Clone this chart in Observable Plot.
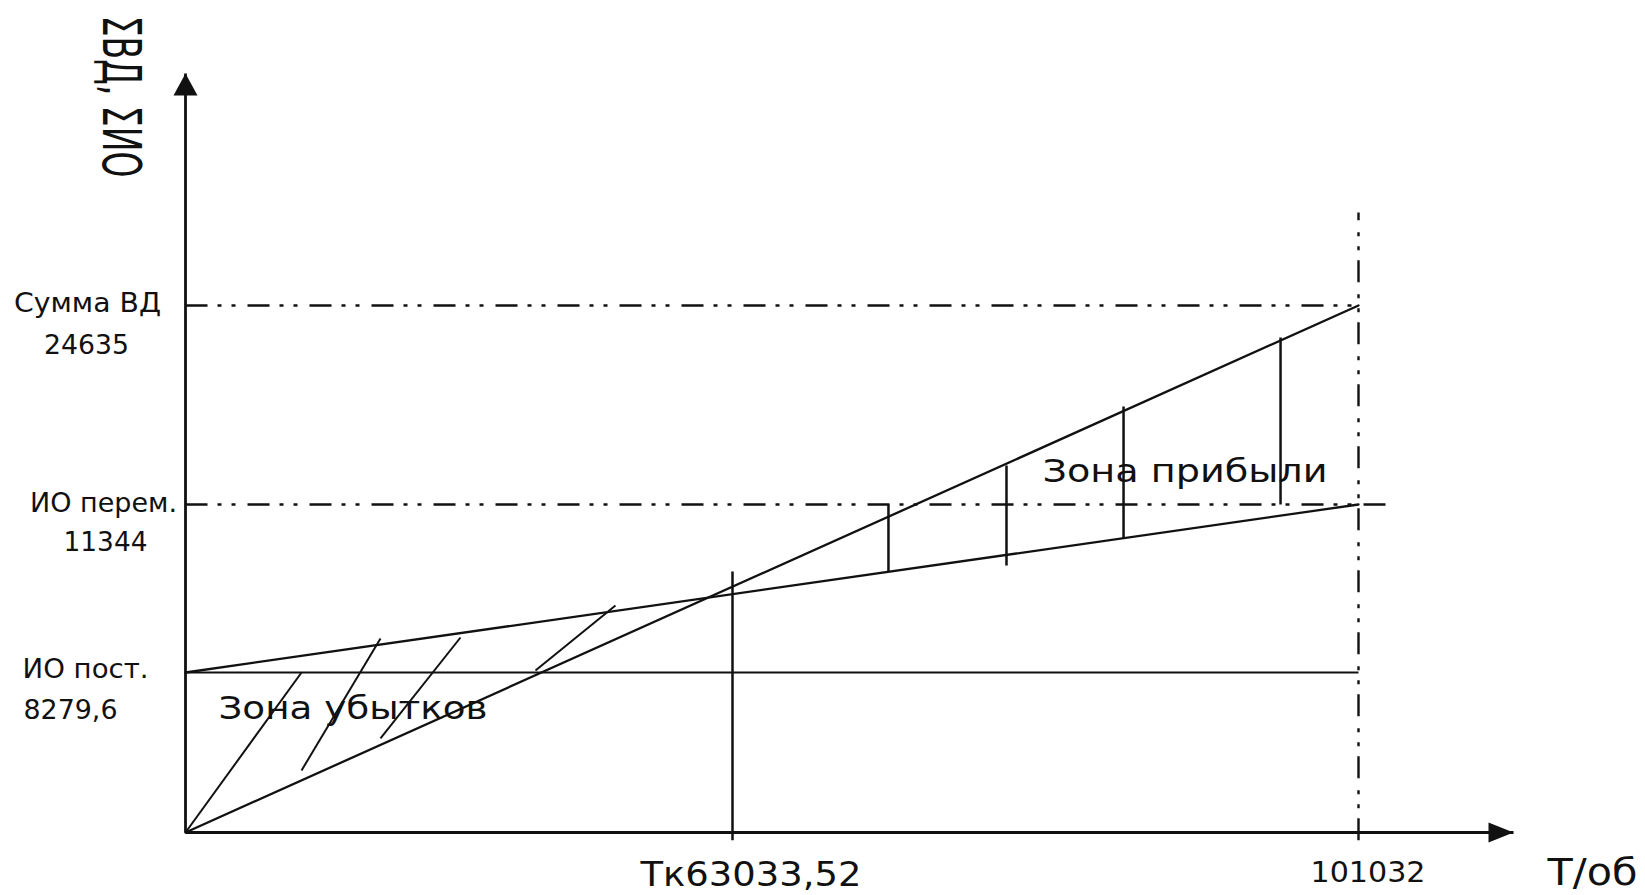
<!DOCTYPE html>
<html><head><meta charset="utf-8">
<script src="https://cdn.jsdelivr.net/npm/d3@7"></script>
<script src="https://cdn.jsdelivr.net/npm/@observablehq/plot@0.6"></script>
<style>body{margin:0;background:#fff;} #chart svg{display:block;}</style>
</head><body><div id="chart"></div>
<script>
// ---- data ----
const xBreaks = [0, 63033.52, 101032, 110000];          // schematic (piecewise) x axis
const yBreaks = [0, 8279.6, 11344, 24635, 40000];       // schematic (piecewise) y axis
const tk = 63033.52;
const tMax = 101032;
const xAxisEnd = 110000;
const yAxisEnd = 40000;
const sumVD = 24635, ioPerem = 11344, ioPost = 8279.6;
const revenueX = [0, 101032], revenueY = [0, 24635];
const costX = [0, 101032], costY = [8279.6, 11344];
const yLabelAt = [24635, 11344, 8279.6];
const yLabelNames = ["Сумма ВД", "ИО перем.", "ИО пост."];
const yLabelValues = ["24635", "11344", "8279,6"];
const xLabelAt = [63033.52, 101032];
const xLabelText = ["Тк63033,52", "101032"];
const xAxisTitle = "Т/об";
const yAxisTitle = "ΣВД, ΣИО";
// hatching of the loss zone (diagonal strokes)
const lossX1 = [0, 13370, 22470, 40330];
const lossY1 = [0, 3210, 4865, 8316];
const lossX2 = [13370, 22470, 31690, 49550];
const lossY2 = [8279.6, 8900, 8918, 9502];
// hatching of the profit zone (vertical strokes)
const profitX = [72500, 79665, 86770, 96300];
const profitY1 = [10122, 10231, 10724, 11344];
const profitY2 = [11344, 13949, 17889, 22498];
const tkTop = 10122;
const tMaxTop = 30800;
const belowAxis = -400;
const ioPeremEnd = 102800;
const zoneNames = ["Зона убытков", "Зона прибыли"];
const zoneX = [19300, 90500];
const zoneY = [6391, 13515];

// ---- layout / style constants ----
const FONT = "DejaVu Sans";
const INK = "#111";
const nameDx = [-98, -82, -100], nameDy = [-2, -1, -3];
const valueDx = [-99, -80, -115], valueDy = [40, 38, 38];
const xLabelDx = [18.5, 9.5], xLabelDy = [42.5, 40.5], xLabelSize = [33, 29];
const textWidths = {
  "Сумма ВД": 147, "24635": 85, "ИО перем.": 147, "11344": 84, "ИО пост.": 126, "8279,6": 94,
  "Тк63033,52": 221, "101032": 115, "Т/об": 90, "Зона прибыли": 285, "Зона убытков": 269
};
const DASH = "22,10,4,10,4,12";

const upTri = {draw(c) { c.moveTo(0, 0); c.lineTo(-12, 22); c.lineTo(12, 22); c.closePath(); }};
const rightTri = {draw(c) { c.moveTo(0, 0); c.lineTo(-25, -10); c.lineTo(-25, 10); c.closePath(); }};

const seg = (x1, y1, x2, y2) => x1.map((_, i) => ({x1: x1[i], y1: y1[i], x2: x2[i], y2: y2[i]}));
const L = {x1: "x1", y1: "y1", x2: "x2", y2: "y2"};

const marks = [];
// axes
marks.push(Plot.link([{x1: 0, y1: 0, x2: xAxisEnd, y2: 0}], {...L, stroke: INK, strokeWidth: 2.8}));
marks.push(Plot.link([{x1: 0, y1: 0, x2: 0, y2: yAxisEnd}], {...L, stroke: INK, strokeWidth: 2.8}));
marks.push(Plot.dot([{x: xAxisEnd, y: 0}], {x: "x", y: "y", r: 10, symbol: rightTri, fill: INK, stroke: "none"}));
marks.push(Plot.dot([{x: 0, y: yAxisEnd}], {x: "x", y: "y", r: 10, symbol: upTri, fill: INK, stroke: "none"}));
// reference lines
marks.push(Plot.link([{x1: 0, y1: sumVD, x2: tMax, y2: sumVD}], {...L, stroke: INK, strokeWidth: 2.4, strokeDasharray: DASH}));
marks.push(Plot.link([{x1: 0, y1: ioPerem, x2: ioPeremEnd, y2: ioPerem}], {...L, stroke: INK, strokeWidth: 2.4, strokeDasharray: DASH}));
marks.push(Plot.link([{x1: tMax, y1: belowAxis, x2: tMax, y2: tMaxTop}], {...L, stroke: INK, strokeWidth: 2.4, strokeDasharray: DASH}));
marks.push(Plot.link([{x1: 0, y1: ioPost, x2: tMax, y2: ioPost}], {...L, stroke: INK, strokeWidth: 2.2}));
// break-even vertical
marks.push(Plot.link([{x1: tk, y1: belowAxis, x2: tk, y2: tkTop}], {...L, stroke: INK, strokeWidth: 2.5}));
// revenue and cost lines
marks.push(Plot.line(revenueX.map((x, i) => ({x, y: revenueY[i]})), {x: "x", y: "y", stroke: INK, strokeWidth: 2.3}));
marks.push(Plot.line(costX.map((x, i) => ({x, y: costY[i]})), {x: "x", y: "y", stroke: INK, strokeWidth: 2.3}));
// hatching
marks.push(Plot.link(seg(lossX1, lossY1, lossX2, lossY2), {...L, stroke: INK, strokeWidth: 2}));
marks.push(Plot.link(seg(profitX, profitY1, profitX, profitY2), {...L, stroke: INK, strokeWidth: 2.5}));
// y labels
yLabelAt.forEach((v, i) => {
  marks.push(Plot.text([v], {x: () => 0, y: d => d, text: () => yLabelNames[i], dx: nameDx[i], dy: nameDy[i],
    fontSize: 27, fontFamily: FONT, fill: INK, textAnchor: "middle", lineAnchor: "middle"}));
  marks.push(Plot.text([v], {x: () => 0, y: d => d, text: () => yLabelValues[i], dx: valueDx[i], dy: valueDy[i],
    fontSize: 27, fontFamily: FONT, fill: INK, textAnchor: "middle", lineAnchor: "middle"}));
});
// x labels
xLabelAt.forEach((v, i) => {
  marks.push(Plot.text([v], {x: d => d, y: () => 0, text: () => xLabelText[i], dx: xLabelDx[i], dy: xLabelDy[i],
    fontSize: xLabelSize[i], fontFamily: FONT, fill: INK, textAnchor: "middle", lineAnchor: "middle"}));
});
marks.push(Plot.text([xAxisEnd], {x: d => d, y: () => 0, text: () => xAxisTitle, dx: 79, dy: 40.5,
  fontSize: 38, fontFamily: FONT, fill: INK, textAnchor: "middle", lineAnchor: "middle"}));
marks.push(Plot.text([yAxisEnd], {x: () => 0, y: d => d, text: () => yAxisTitle, dx: -66, dy: 23, rotate: 90,
  fontSize: 33, fontFamily: FONT, fill: INK, textAnchor: "middle", lineAnchor: "middle"}));
// zone labels
marks.push(Plot.text(zoneNames.map((t, i) => ({t, x: zoneX[i], y: zoneY[i]})), {x: "x", y: "y", text: "t",
  fontSize: 32, fontFamily: FONT, fill: INK, textAnchor: "middle", lineAnchor: "middle"}));

const chart = Plot.plot({
  width: 1645, height: 895, margin: 0,
  style: {background: "white", fontFamily: FONT, color: INK},
  x: {type: "linear", domain: xBreaks, range: [185, 732, 1358, 1513], axis: null},
  y: {type: "linear", domain: yBreaks, range: [832, 672, 504, 305, 73], axis: null},
  marks
});
document.getElementById("chart").appendChild(chart);

// stretch the text horizontally like the reference drawing
d3.select(chart).selectAll("text").each(function() {
  const t = this.textContent;
  if (textWidths[t] !== undefined) {
    this.setAttribute("textLength", textWidths[t]);
    this.setAttribute("lengthAdjust", "spacingAndGlyphs");
  }
  if (t === yAxisTitle) {
    const tr = this.getAttribute("transform") || "";
    this.setAttribute("transform", tr + " scale(1,1.6)");
  }
});
</script>
</body></html>
